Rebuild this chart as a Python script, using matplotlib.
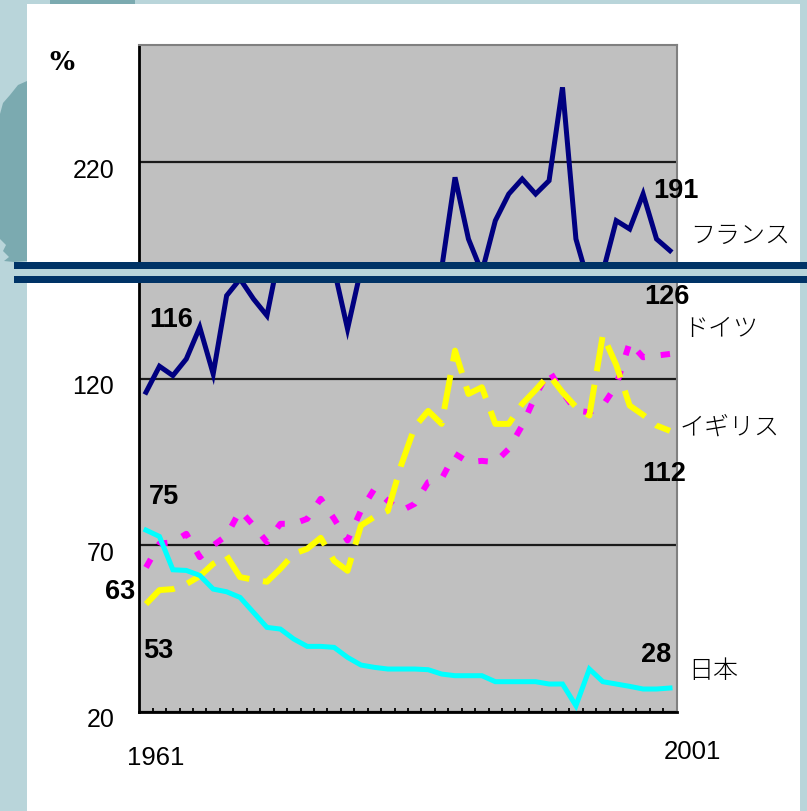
import numpy as np
import matplotlib
matplotlib.use("Agg")
import matplotlib.pyplot as plt
from matplotlib.patches import Rectangle, Polygon
from matplotlib import font_manager
import matplotlib.transforms as mtransforms

# ---------------- data ----------------
years = list(range(1961, 2001))

france = [116, 123.8, 121, 126, 135.5, 121.5, 145, 150, 144, 139,
          159, 165, 170, 166, 153, 135, 153, 165, 172, 176,
          180, 184, 188, 215.5, 197, 187, 202.5, 210.5, 215, 210.5,
          214.5, 242.5, 197, 183, 187, 202.5, 200, 210.5, 197, 193.5]

germany = [63.4, 70.5, 71, 73.5, 66.5, 70, 73, 80.5, 76, 71,
           76.5, 76.5, 78, 84, 78, 71.5, 80.5, 87, 83.4, 80.4,
           82.5, 89, 90, 97.5, 95, 95.4, 95, 99, 106, 115,
           122.5, 116, 110.5, 110, 112, 118, 131, 126.5, 127, 127.5]

uk = [52.4, 56.6, 56.9, 58.4, 60.8, 64.5, 66.9, 60.5, 59.7, 59.1,
      63, 67.5, 69, 72.3, 65.4, 62.4, 76, 78.6, 80.4, 94.2,
      105.6, 110.4, 106.5, 128.5, 115.5, 117.5, 106.5, 106.5, 112.5, 116.7,
      121.2, 116, 111.6, 109, 133.2, 124.2, 112, 109.2, 106, 104.4]

japan = [74.6, 72.7, 62.7, 62.5, 61.0, 56.9, 56.1, 54.4, 49.9, 45.4,
         44.9, 41.9, 39.7, 39.7, 39.4, 36.4, 34.1, 33.4, 32.9, 32.9,
         32.9, 32.7, 31.4, 30.9, 30.9, 30.9, 29.1, 29.1, 29.1, 29.1,
         28.4, 28.4, 21.9, 32.9, 29.1, 28.4, 27.7, 26.9, 26.9, 27.2]

series_names = ["フランス", "ドイツ", "イギリス", "日本"]
start_labels = ["116", "63", "53", "75"]
end_labels = ["191", "126", "112", "28"]
upper_ticks = [220]
lower_ticks = [20, 70, 120]
year_labels = ["1961", "2001"]
unit_label = "%"

# ---------------- styling ----------------
W, H = 807, 812
def fx(px): return px / W
def fy(py): return 1 - py / H

avail = {f.name for f in font_manager.fontManager.ttflist}
NARROW = 'Liberation Sans Narrow' if 'Liberation Sans Narrow' in avail else 'Liberation Sans'
nscale = 1.0 if NARROW == 'Liberation Sans Narrow' else 0.9
CJK = ['Noto Sans CJK JP', 'DejaVu Sans']

LIGHT = "#B9D5DA"
TEAL = "#7BAAB0"
NAVY_BAR = "#003366"
GRAY = "#C0C0C0"

fig = plt.figure(figsize=(W / 100, H / 100), dpi=100)
fig.patch.set_facecolor(LIGHT)

# white slide body
fig.add_artist(Rectangle((fx(27), fy(812)), (800 - 27) / W, (812 - 5) / H,
                         transform=fig.transFigure, facecolor="white",
                         edgecolor="none", zorder=-10))
# decorative darker shapes
shape = [(27, 82), (18, 86), (10, 96), (3, 104), (0, 115), (0, 240), (6, 246),
         (3, 252), (9, 258), (4, 262), (14, 263), (27, 262)]
fig.add_artist(Polygon([(fx(a), fy(b)) for a, b in shape], closed=True,
                       transform=fig.transFigure, facecolor=TEAL,
                       edgecolor="none", zorder=-9))
fig.add_artist(Rectangle((fx(50), fy(5)), 85 / W, 5 / H, transform=fig.transFigure,
                         facecolor=TEAL, edgecolor="none", zorder=-9))

left_px, right_px = 139.3, 676.7
ax_up = fig.add_axes([fx(left_px), fy(270), (right_px - left_px) / W, (270 - 46) / H])
ax_lo = fig.add_axes([fx(left_px), fy(713), (right_px - left_px) / W, (713 - 270) / H])

x = np.arange(len(years))
styles = [
    dict(color="#000080", lw=3.6, solid_joinstyle="miter"),
    dict(color="#FF00FF", lw=4.3, linestyle=(0, (1.6, 2.7)), dash_capstyle="butt"),
    dict(color="#FFFF00", lw=4.3, linestyle=(0, (5.8, 2.3)), dash_capstyle="butt"),
    dict(color="#00FFFF", lw=3.6, solid_joinstyle="miter"),
]
data = [france, germany, uk, japan]

TICK_FS = 18 * nscale / 0.9
for ax in (ax_up, ax_lo):
    ax.set_facecolor(GRAY)
    ax.set_xlim(-0.5, len(years) - 0.5)
    for d, st in zip(data, styles):
        ax.plot(x, d, **st)
    ax.yaxis.grid(True, color="#1a1a1a", lw=1.6)
    ax.set_axisbelow(True)
    ax.tick_params(axis="y", length=0, pad=18)

ax_up.set_ylim(188.0, 255.2)
ax_lo.set_ylim(20, 153.0)
ax_up.set_yticks(upper_ticks)
ax_up.set_yticklabels([str(t) for t in upper_ticks], family=NARROW, fontsize=TICK_FS)
ax_lo.set_yticks(lower_ticks)
ax_lo.set_yticklabels([str(t) for t in lower_ticks], family=NARROW, fontsize=TICK_FS)

off = mtransforms.ScaledTranslation(0, -5 / 100, fig.dpi_scale_trans)
for ax in (ax_up, ax_lo):
    for lab in ax.get_yticklabels():
        lab.set_transform(lab.get_transform() + off)

# spines
ax_up.set_xticks([])
ax_up.spines["bottom"].set_visible(False)
ax_up.spines["left"].set(color="black", lw=2)
ax_up.spines["top"].set(color="#808080", lw=1.5)
ax_up.spines["right"].set(color="#808080", lw=1.5)

ax_lo.spines["top"].set_visible(False)
ax_lo.spines["left"].set(color="black", lw=2)
ax_lo.spines["bottom"].set(color="black", lw=2)
ax_lo.spines["right"].set(color="#808080", lw=1.5)
ax_lo.set_xticks(np.arange(0.5, len(years) - 1, 1.0))
ax_lo.set_xticklabels([])
ax_lo.tick_params(axis="x", direction="in", length=3.2, width=1.3, color="black")

# break band
fig.add_artist(Rectangle((fx(14), fy(284)), (807 - 14) / W, 21 / H,
                         transform=fig.transFigure, facecolor=NAVY_BAR,
                         edgecolor="none", zorder=5))
fig.add_artist(Rectangle((fx(14), fy(277)), (807 - 14) / W, 7 / H,
                         transform=fig.transFigure, facecolor=LIGHT,
                         edgecolor="none", zorder=6))

# labels
lab_kw = dict(family=NARROW, fontsize=19.5 * nscale / 0.9, weight="bold",
              ha="center", va="center", zorder=8)
start_pos = [(171, 320), (120, 592), (158, 651), (164, 497)]
end_pos = [(676, 191), (667, 297), (664, 474), (656, 655)]
for t, (px, py) in zip(start_labels, start_pos):
    fig.text(fx(px), fy(py), t, **lab_kw)
for t, (px, py) in zip(end_labels, end_pos):
    fig.text(fx(px), fy(py), t, **lab_kw)

name_pos = [(690, 236), (683, 329), (680, 427), (688, 671)]
for t, (px, py) in zip(series_names, name_pos):
    fig.text(fx(px), fy(py), t, family=CJK, fontsize=18, weight="light",
             ha="left", va="center", zorder=8)

year_pos = [(156, 758), (692, 752)]
for t, (px, py) in zip(year_labels, year_pos):
    fig.text(fx(px), fy(py), t, family=NARROW, fontsize=18.5 * nscale / 0.9,
             ha="center", va="center", zorder=8)

fig.text(fx(62), fy(63), unit_label, family="DejaVu Serif", weight="bold",
         fontsize=19, ha="center", va="center")

fig.savefig("out.png", dpi=100)
